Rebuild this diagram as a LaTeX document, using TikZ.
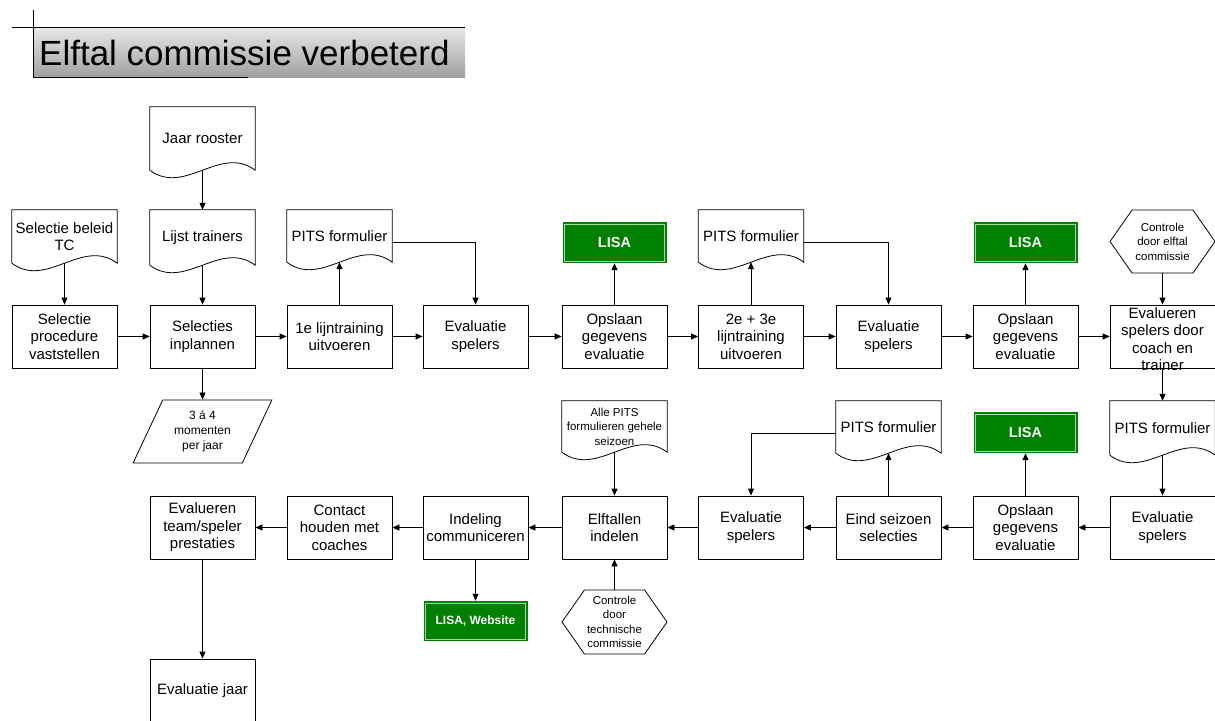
\documentclass[tikz,border=0pt]{standalone}
\usepackage{fontspec}
\setmainfont{Liberation Sans}
\usetikzlibrary{arrows.meta,calc,positioning,shapes.geometric,shapes.symbols}
\definecolor{lisagreen}{RGB}{0,128,0}
\definecolor{lisaline}{RGB}{160,215,160}
\definecolor{titletop}{RGB}{232,232,232}
\definecolor{titlebottom}{RGB}{160,160,160}

% document outline with wavy bottom, drawn round a named node
\newcommand{\docshape}[1]{%
  \draw[docline] (#1.south west) -- (#1.north west) -- (#1.north east)
    -- (#1.south east) .. controls +(-35pt,26pt) and +(35pt,-26pt) .. (#1.south west);}

\begin{document}
\begin{tikzpicture}[
    x=1pt, y=-1pt,
    font=\fontsize{15}{17.5}\selectfont,
    box/.style={draw, line width=0.8pt, minimum width=105pt, minimum height=63pt,
                align=center, inner sep=1pt},
    docnode/.style={minimum width=105pt, minimum height=52pt, align=center,
                    inner sep=1pt},
    docline/.style={line width=0.8pt},
    smalltext/.style={font=\fontsize{11.5}{14.5}\selectfont},
    lisa/.style={fill=lisagreen, minimum width=104pt, minimum height=41pt,
                 text=white, inner sep=0pt,
                 font=\fontsize{14.5}{16}\selectfont\bfseries,
                 path picture={\draw[lisaline, line width=0.8pt]
                   ([shift={(2pt,2pt)}]path picture bounding box.south west) rectangle
                   ([shift={(-2pt,-2pt)}]path picture bounding box.north east);}},
    hexnode/.style={draw, line width=0.8pt, shape=signal, signal to=east and west,
                    signal pointer angle=110, minimum width=105pt,
                    minimum height=63pt, align=center, inner sep=0pt, smalltext},
    flow/.style={-{Triangle[length=7pt,width=6pt]}, line width=0.8pt}
]
\useasboundingbox (0,0) rectangle (1215,720);

% title
\shade[top color=titletop, bottom color=titlebottom] (33,27) rectangle (465,77);
\draw[line width=0.8pt] (12,27) -- (465,27);
\draw[line width=0.8pt] (33,10) -- (33,77) -- (248,77);
\node[anchor=west, font=\fontsize{35}{38}\selectfont, inner sep=0pt] (title)
    at (39,53) {Elftal commissie verbeterd};

% top row
\node[box] (sel)  at (64.5,336.5)  {Selectie\\procedure\\vaststellen};
\node[box] (plan) at (202.5,336.5) {Selecties\\inplannen};
\node[box] (lt1)  at (339.5,336.5) {1e lijntraining\\uitvoeren};
\node[box] (ev1)  at (475.5,336.5) {Evaluatie\\spelers};
\node[box] (ops1) at (614.5,336.5) {Opslaan\\gegevens\\evaluatie};
\node[box] (lt2)  at (751,336.5)   {2e + 3e\\lijntraining\\uitvoeren};
\node[box] (ev2)  at (888.5,336.5) {Evaluatie\\spelers};
\node[box] (ops2) at (1025.5,336.5) {Opslaan\\gegevens\\evaluatie};
\node[box] (evc)  at (1162.5,336.5) {};
\node[align=center, inner sep=0pt] (evctext) at (1162.5,339)
    {Evalueren\\spelers door\\coach en\\trainer};

% documents above the top row
\node[docnode, minimum height=53pt] (beleid) at (64.5,236.5) {Selectie beleid\\TC};
\node[docnode, minimum height=63pt] (rooster) at (202.5,138.5) {Jaar rooster};
\node[docnode, minimum height=55pt] (trainers) at (202.5,237.5) {Lijst trainers};
\node[docnode] (pits1) at (339.5,236) {PITS formulier};
\node[docnode] (pits2) at (751,236) {PITS formulier};
\docshape{beleid}
\docshape{rooster}
\docshape{trainers}
\docshape{pits1}
\docshape{pits2}

\node[lisa] (lisa1) at (614.5,242.5) {LISA};
\node[lisa] (lisa2) at (1025.5,242.5) {LISA};
\node[hexnode] (hex1) at (1162.5,241.5) {Controle\\door elftal\\commissie};

% bottom row
\node[box] (evt)      at (202.5,527.5) {Evalueren\\team/speler\\prestaties};
\node[box] (contact)  at (339.5,527.5) {Contact\\houden met\\coaches};
\node[box] (indeling) at (475.5,527.5) {Indeling\\communiceren};
\node[box] (indelen)  at (614.5,527.5) {Elftallen\\indelen};
\node[box] (ev4)      at (751,527.5)   {Evaluatie\\spelers};
\node[box] (eind)     at (888.5,527.5) {Eind seizoen\\selecties};
\node[box] (ops3)     at (1025.5,527.5) {Opslaan\\gegevens\\evaluatie};
\node[box] (ev3)      at (1162.5,527.5) {Evaluatie\\spelers};
\node[box] (jaar)     at (202.5,690.5) {Evaluatie jaar};

% between the rows
\node[draw, line width=0.8pt, shape=trapezium, trapezium left angle=63,
      trapezium right angle=117, trapezium stretches=true, minimum width=139pt,
      minimum height=63pt, align=center, inner sep=0pt,
      font=\fontsize{12}{15}\selectfont]
    (momenten) at (202.5,431.5) {3 á 4\\momenten\\per jaar};
\node[docnode, minimum height=51pt, smalltext] (allepits) at (614.5,426.5)
    {Alle PITS\\formulieren gehele\\seizoen};
\node[docnode] (pits3) at (888.5,427) {PITS formulier};
\node[docnode, minimum height=54pt] (pits4) at (1162.5,428) {PITS formulier};
\docshape{allepits}
\docshape{pits3}
\docshape{pits4}
\node[lisa] (lisa3) at (1025.5,432.5) {LISA};

% below the bottom row
\node[lisa, font=\fontsize{12}{14}\selectfont\bfseries, minimum height=40pt]
    (lisaweb) at (475.5,621) {LISA, Website};
\node[hexnode, minimum height=64pt] (hex2) at (614.5,622)
    {Controle\\door\\technische\\commissie};

% connectors, top row
\draw[flow] (sel) -- (plan);
\draw[flow] (plan) -- (lt1);
\draw[flow] (lt1) -- (ev1);
\draw[flow] (ev1) -- (ops1);
\draw[flow] (ops1) -- (lt2);
\draw[flow] (lt2) -- (ev2);
\draw[flow] (ev2) -- (ops2);
\draw[flow] (ops2) -- (evc);
\draw[flow] (beleid.south) -- (sel.north);
\draw[flow] (rooster.south) -- (trainers.north);
\draw[flow] (trainers.south) -- (plan.north);
\draw[flow] (plan.south) -- (momenten.north);
\draw[flow] (lt1.north) -- (pits1.south);
\draw[flow] ([yshift=-6pt]pits1.east) -| (ev1.north);
\draw[flow] (ops1.north) -- (lisa1.south);
\draw[flow] (lt2.north) -- (pits2.south);
\draw[flow] ([yshift=-6pt]pits2.east) -| (ev2.north);
\draw[flow] (ops2.north) -- (lisa2.south);
\draw[flow] (hex1.south) -- (evc.north);
\draw[flow] (evc.south) -- (pits4.north);
\draw[flow] (pits4.south) -- (ev3.north);

% connectors, bottom row
\draw[flow] (ev3) -- (ops3);
\draw[flow] (ops3) -- (eind);
\draw[flow] (eind) -- (ev4);
\draw[flow] (ev4) -- (indelen);
\draw[flow] (indelen) -- (indeling);
\draw[flow] (indeling) -- (contact);
\draw[flow] (contact) -- (evt);
\draw[flow] (evt) -- (jaar);
\draw[flow] (ops3.north) -- (lisa3.south);
\draw[flow] (eind.north) -- (pits3.south);
\draw[flow] ([yshift=-6pt]pits3.west) -| (ev4.north);
\draw[flow] (allepits.south) -- (indelen.north);
\draw[flow] (hex2.north) -- (indelen.south);
\draw[flow] (indeling.south) -- (lisaweb.north);
\end{tikzpicture}
\end{document}
